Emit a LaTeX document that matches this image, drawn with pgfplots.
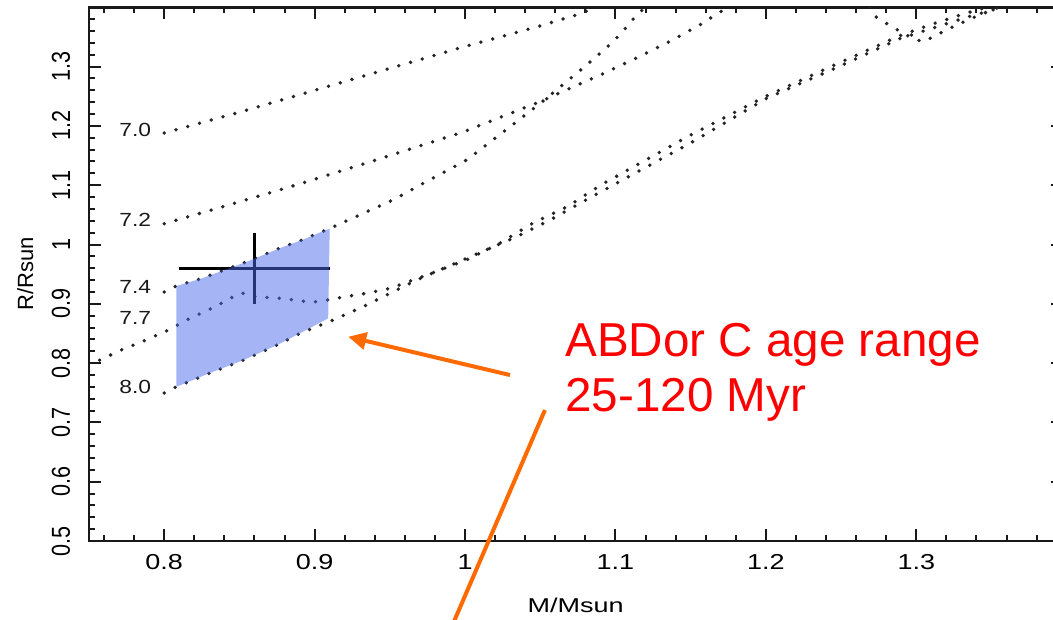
\documentclass[border=0pt]{standalone}
\usepackage{fontspec}
\setmainfont{Liberation Sans}
\usepackage{pgfplots}
\pgfplotsset{compat=1.18}
\usetikzlibrary{arrows.meta}

\definecolor{isoc}{RGB}{35,35,35}
\definecolor{agefill}{RGB}{75,105,235}
\definecolor{callout}{RGB}{255,106,0}
\definecolor{axisgray}{RGB}{25,25,25}

\pgfplotsset{
  iso/.style={isoc, line width=1.9pt, line cap=round, dash pattern=on 0pt off 6.1pt, mark=none},
}
\tikzset{
  isolab/.style={font=\fontsize{9.5}{11}\selectfont, inner sep=0pt, xscale=1.2, text=black!90},
}

\begin{document}
\begin{tikzpicture}
\begin{axis}[
  scale only axis,
  width=486.5pt, height=266.85pt,
  xmin=0.75, xmax=1.397, ymin=0.5, ymax=1.4,
  clip mode=individual,
  axis line style={axisgray, line width=1.4pt},
  xtick={0.8,0.9,1,1.1,1.2,1.3},
  ytick={0.5,0.6,0.7,0.8,0.9,1,1.1,1.2,1.3},
  minor xtick={0.76,0.78,0.82,0.84,0.86,0.88,0.92,0.94,0.96,0.98,1.02,1.04,1.06,1.08,1.12,1.14,1.16,1.18,1.22,1.24,1.26,1.28,1.32,1.34,1.36,1.38},
  minor ytick={0.52,0.54,0.56,0.58,0.62,0.64,0.66,0.68,0.72,0.74,0.76,0.78,0.82,0.84,0.86,0.88,0.92,0.94,0.96,0.98,1.02,1.04,1.06,1.08,1.12,1.14,1.16,1.18,1.22,1.24,1.26,1.28,1.32,1.34,1.36,1.38},
  tick style={axisgray, line width=1pt},
  major tick length=5.8pt, minor tick length=3.1pt,
  /pgf/number format/assume math mode=true,
  xticklabel style={font=\fontsize{10.8}{12}\selectfont, inner sep=0pt, anchor=north, xscale=1.25},
  xticklabel shift=6.4pt,
  yticklabel style={font=\fontsize{10.8}{12}\selectfont, inner sep=0pt, rotate=90, anchor=south, yscale=1.2},
  yticklabel shift=9.2pt,
  xlabel={M/Msun}, ylabel={R/Rsun},
  xlabel style={at={(axis description cs:0.5,-0.12)}, anchor=center, font=\fontsize{10}{12}\selectfont, xscale=1.35},
  ylabel style={at={(axis description cs:-0.0655,0.5)}, anchor=center, font=\fontsize{11}{13}\selectfont},
]

% isochrones, log(age/yr)
% 7.0
\addplot[iso] coordinates {(0.800,1.188) (0.850,1.223) (0.900,1.260) (0.950,1.297) (1.000,1.334) (1.045,1.365) (1.078,1.390) (1.086,1.400)};
% 7.2
\addplot[iso] coordinates {(0.800,1.035) (0.850,1.072) (0.895,1.106) (0.950,1.150) (0.999,1.190) (1.050,1.241) (1.080,1.275) (1.090,1.286) (1.116,1.317) (1.138,1.345) (1.160,1.376) (1.166,1.387) (1.175,1.400)};
% 7.4
\addplot[iso] coordinates {(0.800,0.920) (0.808,0.930) (0.824,0.942) (0.855,0.971) (0.877,0.994) (0.892,1.008) (0.910,1.027) (0.930,1.050) (0.952,1.075) (0.972,1.103) (1.001,1.1425) (1.025,1.189) (1.050,1.238) (1.081,1.303) (1.0985,1.342) (1.1085,1.370) (1.114,1.387) (1.120,1.400)};
\addplot[iso] coordinates {(1.269,1.400) (1.2714,1.387) (1.278,1.376) (1.2847,1.366) (1.2914,1.356) (1.299,1.346) (1.305,1.342) (1.320,1.362) (1.340,1.385) (1.355,1.400)};
% 7.7
\addplot[iso] coordinates {(0.757,0.805) (0.773,0.824) (0.788,0.839) (0.803,0.856) (0.817,0.8755) (0.833,0.894) (0.846,0.912) (0.852,0.918) (0.861,0.912) (0.879,0.909) (0.895,0.9035) (0.9035,0.9035) (0.911,0.908) (0.935,0.918) (0.950,0.926) (0.975,0.949) (1.001,0.974) (1.023,1.002) (1.045,1.036) (1.068,1.064) (1.092,1.103) (1.100,1.114) (1.148,1.182) (1.200,1.250) (1.245,1.302) (1.289,1.352) (1.311,1.372) (1.333,1.390) (1.347,1.400)};
% 8.0
\addplot[iso] coordinates {(0.800,0.7496) (0.808,0.760) (0.830,0.783) (0.8525,0.805) (0.875,0.8305) (0.890,0.850) (0.9124,0.8727) (0.9346,0.898) (0.950,0.9177) (0.9678,0.9401) (1.001,0.9767) (1.0343,1.0132) (1.0565,1.0413) (1.0764,1.0695) (1.0985,1.1003) (1.1495,1.1706) (1.2005,1.2465) (1.245,1.296) (1.289,1.347) (1.311,1.365) (1.336,1.385) (1.357,1.400)};

% measured mass and radius of AB Dor C
\addplot[black, line width=1.3pt, mark=none,
  error bars/.cd, x dir=both, x explicit, y dir=both, y explicit,
  error mark=none, error bar style={black, line width=1.3pt}]
  coordinates {(0.86,0.96) +- (0.05,0.06)};

% allowed region for the group age
\addplot[draw=none, fill=agefill, fill opacity=0.5] coordinates {
  (0.808,0.930) (0.824,0.942) (0.855,0.971) (0.877,0.994) (0.892,1.008) (0.910,1.027)
  (0.909,0.8755) (0.890,0.850) (0.875,0.8305) (0.8525,0.805) (0.830,0.783) (0.808,0.760)} -- cycle;

% isochrone labels
\node[isolab, anchor=east] at (axis cs:0.7916,1.193) {7.0};
\node[isolab, anchor=east] at (axis cs:0.7916,1.041) {7.2};
\node[isolab, anchor=east] at (axis cs:0.7916,0.929) {7.4};
\node[isolab, anchor=east] at (axis cs:0.7916,0.8756) {7.7};
\node[isolab, anchor=east] at (axis cs:0.7916,0.760) {8.0};

% callout
\node[anchor=base west, inner sep=0pt, text=red, font=\fontsize{23.8}{28}\selectfont] at (axis cs:1.0664,0.8108) {ABDor C age range};
\node[anchor=base west, inner sep=0pt, text=red, font=\fontsize{23.8}{28}\selectfont] at (axis cs:1.0664,0.718) {25-120 Myr};
\draw[callout, line width=2pt, -{Triangle[length=9pt,width=8.5pt]}] (axis cs:1.0299,0.7799) -- (axis cs:0.9223,0.8445);
\draw[callout, line width=2pt] (axis cs:1.0531,0.7209) -- (axis cs:0.9868,0.330);

\coordinate (bbSW) at (axis cs:0.6908,0.3685);
\coordinate (bbNE) at (axis cs:1.3909,1.4123);
\end{axis}
\pgfresetboundingbox
\useasboundingbox (bbSW) rectangle (bbNE);
\end{tikzpicture}
\end{document}
